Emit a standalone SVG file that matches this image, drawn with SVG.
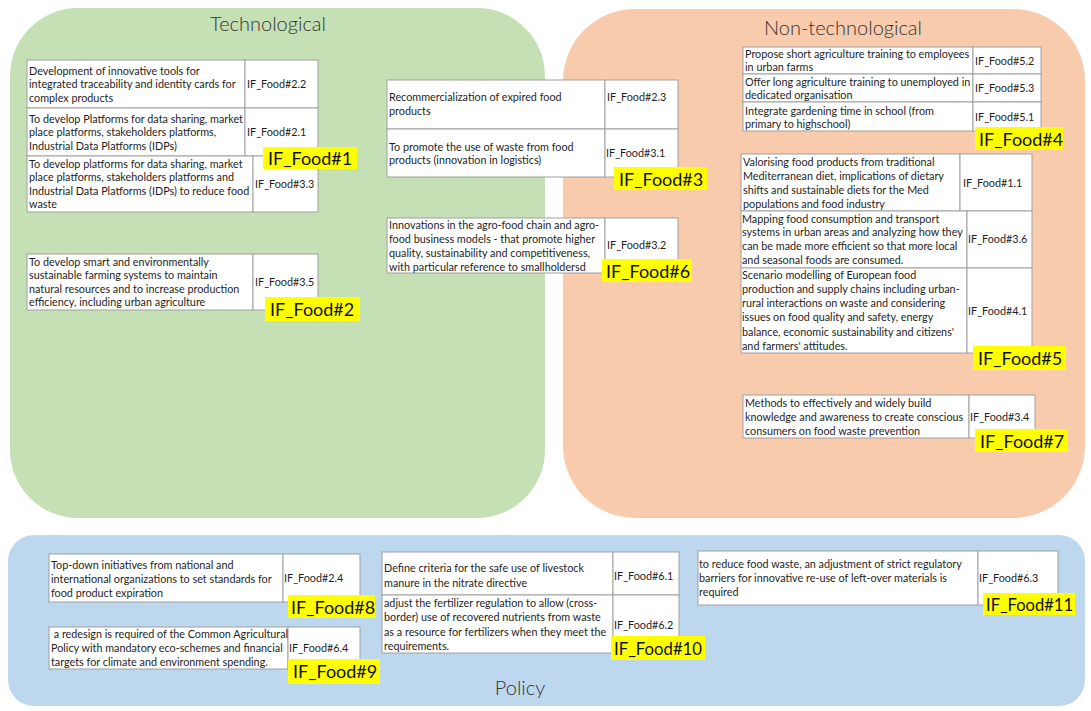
<svg xmlns="http://www.w3.org/2000/svg" width="1091" height="711" viewBox="0 0 1091 711">
<style>
.bg{stroke:none}
.cell{fill:#fff;stroke:#a0a0a0;stroke-width:1}
.t{font-family:Lato,"Open Sans","Liberation Sans",sans-serif;font-size:10.8px;fill:#1e1e1e}
.lab{fill:#ffff00}
.lt{font-family:Lato,"Open Sans","Liberation Sans",sans-serif;font-size:18px;fill:#111}
.title{font-family:Lato,"Open Sans","Liberation Sans",sans-serif;font-size:20px;font-weight:300;fill:#333;text-anchor:middle}
</style>
<rect width="1091" height="711" fill="#fff"/>
<g id="region-technological">
<rect class="bg" x="10" y="8" width="535" height="510" rx="68" fill="#c5e0b4"/>
<text class="title" x="268" y="31">Technological</text>
</g>
<g id="region-nontechnological">
<rect class="bg" x="563" y="9" width="522" height="509" rx="72" fill="#f8cbad"/>
<text class="title" x="843" y="35">Non-technological</text>
</g>
<g id="region-policy">
<rect class="bg" x="8" y="535" width="1077" height="171" rx="26" fill="#bdd7ee"/>
<text class="title" x="520" y="695">Policy</text>
</g>
<g id="connectors"/>

<g id="IF_Food1">
<rect class="cell" x="27" y="60" width="218" height="48"/><rect class="cell" x="245" y="60" width="73" height="48"/>
<text class="t" x="29" y="74.5">Development of innovative tools for</text>
<text class="t" x="29" y="88">integrated traceability and identity cards for</text>
<text class="t" x="29" y="101.5">complex products</text>
<text class="t" x="247" y="88">IF_Food#2.2</text>
<rect class="cell" x="27" y="108" width="218" height="48"/><rect class="cell" x="245" y="108" width="73" height="48"/>
<text class="t" x="29" y="122.5">To develop Platforms for data sharing, market</text>
<text class="t" x="29" y="136">place platforms, stakeholders platforms,</text>
<text class="t" x="29" y="149.5">Industrial Data Platforms (IDPs)</text>
<text class="t" x="247" y="136">IF_Food#2.1</text>
<rect class="cell" x="27" y="156" width="226" height="56"/><rect class="cell" x="253" y="156" width="65" height="56"/>
<text class="t" x="29" y="167.5">To develop platforms for data sharing, market</text>
<text class="t" x="29" y="181">place platforms, stakeholders platforms and</text>
<text class="t" x="29" y="194.5">Industrial Data Platforms (IDPs) to reduce food</text>
<text class="t" x="29" y="208">waste</text>
<text class="t" x="255" y="188">IF_Food#3.3</text>
<rect class="lab" x="263" y="147" width="94" height="22"/>
<text class="lt" x="268" y="165">IF_Food#1</text>
</g>

<g id="IF_Food2">
<rect class="cell" x="27" y="254" width="226" height="56"/><rect class="cell" x="253" y="254" width="65" height="56"/>
<text class="t" x="29" y="265.5">To develop smart and environmentally</text>
<text class="t" x="29" y="279">sustainable farming systems to maintain</text>
<text class="t" x="29" y="292.5">natural resources and to increase production</text>
<text class="t" x="29" y="306">efficiency, including urban agriculture</text>
<text class="t" x="255" y="286">IF_Food#3.5</text>
<rect class="lab" x="265" y="297" width="95" height="24"/>
<text class="lt" x="270" y="316">IF_Food#2</text>
</g>

<g id="IF_Food3">
<rect class="cell" x="387" y="80" width="218" height="49"/><rect class="cell" x="605" y="80" width="73" height="49"/>
<text class="t" x="389" y="101">Recommercialization of expired food</text>
<text class="t" x="389" y="115">products</text>
<text class="t" x="607" y="101">IF_Food#2.3</text>
<rect class="cell" x="387" y="129" width="218" height="48"/><rect class="cell" x="605" y="129" width="73" height="48"/>
<text class="t" x="389" y="151">To promote the use of waste from food</text>
<text class="t" x="389" y="164">products (innovation in logistics)</text>
<text class="t" x="606" y="157">IF_Food#3.1</text>
<rect class="lab" x="614" y="167" width="93" height="23"/>
<text class="lt" x="619" y="186">IF_Food#3</text>
</g>

<g id="IF_Food6">
<rect class="cell" x="387" y="218" width="218" height="55"/><rect class="cell" x="605" y="218" width="73" height="55"/>
<text class="t" x="389" y="229">Innovations in the agro-food chain and agro-</text>
<text class="t" x="389" y="243">food business models - that promote higher</text>
<text class="t" x="389" y="257">quality, sustainability and competitiveness,</text>
<text class="t" x="389" y="270.5">with particular reference to smallholdersd</text>
<text class="t" x="607" y="249">IF_Food#3.2</text>
<rect class="lab" x="602" y="259" width="90" height="23"/>
<text class="lt" x="606" y="278">IF_Food#6</text>
</g>

<g id="IF_Food4">
<rect class="cell" x="743" y="47" width="230" height="27"/><rect class="cell" x="973" y="47" width="68" height="27"/>
<text class="t" x="745" y="58">Propose short agriculture training to employees</text>
<text class="t" x="745" y="71">in urban farms</text>
<text class="t" x="975" y="65">IF_Food#5.2</text>
<rect class="cell" x="743" y="74" width="230" height="28"/><rect class="cell" x="973" y="74" width="68" height="28"/>
<text class="t" x="745" y="86">Offer long agriculture training to unemployed in</text>
<text class="t" x="745" y="99">dedicated organisation</text>
<text class="t" x="975" y="92">IF_Food#5.3</text>
<rect class="cell" x="743" y="102" width="230" height="29"/><rect class="cell" x="973" y="102" width="68" height="29"/>
<text class="t" x="745" y="115">Integrate gardening time in school (from</text>
<text class="t" x="745" y="128">primary to highschool)</text>
<text class="t" x="975" y="121">IF_Food#5.1</text>
<rect class="lab" x="975" y="127" width="88" height="23"/>
<text class="lt" x="979" y="146">IF_Food#4</text>
</g>

<g id="IF_Food5">
<rect class="cell" x="741" y="154" width="219" height="57"/><rect class="cell" x="960" y="154" width="72" height="57"/>
<text class="t" x="743" y="166">Valorising food products from traditional</text>
<text class="t" x="743" y="180">Mediterranean diet, implications of dietary</text>
<text class="t" x="743" y="194">shifts and sustainable diets for the Med</text>
<text class="t" x="743" y="208">populations and food industry</text>
<text class="t" x="963" y="187">IF_Food#1.1</text>
<rect class="cell" x="741" y="211" width="226" height="57"/><rect class="cell" x="967" y="211" width="65" height="57"/>
<text class="t" x="742" y="222.5">Mapping food consumption and transport</text>
<text class="t" x="742" y="236">systems in urban areas and analyzing how they</text>
<text class="t" x="742" y="250">can be made more efficient so that more local</text>
<text class="t" x="742" y="264">and seasonal foods are consumed.</text>
<text class="t" x="968" y="243">IF_Food#3.6</text>
<rect class="cell" x="741" y="268" width="226" height="85"/><rect class="cell" x="967" y="268" width="65" height="85"/>
<text class="t" x="742" y="279">Scenario modelling of European food</text>
<text class="t" x="742" y="293">production and supply chains including urban-</text>
<text class="t" x="742" y="307">rural interactions on waste and considering</text>
<text class="t" x="742" y="321">issues on food quality and safety, energy</text>
<text class="t" x="742" y="336">balance, economic sustainability and citizens'</text>
<text class="t" x="742" y="350">and farmers' attitudes.</text>
<text class="t" x="968" y="315">IF_Food#4.1</text>
<rect class="lab" x="973" y="346" width="93" height="24"/>
<text class="lt" x="978" y="365">IF_Food#5</text>
</g>

<g id="IF_Food7">
<rect class="cell" x="743" y="395" width="226" height="43"/><rect class="cell" x="969" y="395" width="66" height="43"/>
<text class="t" x="745" y="407">Methods to effectively and widely build</text>
<text class="t" x="745" y="421">knowledge and awareness to create conscious</text>
<text class="t" x="745" y="435">consumers on food waste prevention</text>
<text class="t" x="970" y="421">IF_Food#3.4</text>
<rect class="lab" x="975" y="429" width="93" height="23"/>
<text class="lt" x="980" y="448">IF_Food#7</text>
</g>

<g id="IF_Food8">
<rect class="cell" x="49" y="554" width="234" height="48"/><rect class="cell" x="283" y="554" width="77" height="48"/>
<text class="t" x="51" y="569">Top-down initiatives from national and</text>
<text class="t" x="51" y="583">international organizations to set standards for</text>
<text class="t" x="51" y="597">food product expiration</text>
<text class="t" x="284" y="582">IF_Food#2.4</text>
<rect class="lab" x="288" y="595" width="87" height="23"/>
<text class="lt" x="291" y="614">IF_Food#8</text>
</g>

<g id="IF_Food9">
<rect class="cell" x="49" y="627" width="239" height="42"/><rect class="cell" x="288" y="627" width="72" height="42"/>
<text class="t" x="51" y="638" xml:space="preserve"> a redesign is required of the Common Agricultural</text>
<text class="t" x="51" y="652">Policy with mandatory eco-schemes and financial</text>
<text class="t" x="51" y="666">targets for climate and environment spending.</text>
<text class="t" x="289" y="652">IF_Food#6.4</text>
<rect class="lab" x="288" y="659" width="92" height="25"/>
<text class="lt" x="293" y="678">IF_Food#9</text>
</g>

<g id="IF_Food10">
<rect class="cell" x="382" y="552" width="231" height="43"/><rect class="cell" x="613" y="552" width="66" height="43"/>
<text class="t" x="384" y="572">Define criteria for the safe use of livestock</text>
<text class="t" x="384" y="587">manure in the nitrate directive</text>
<text class="t" x="614" y="580">IF_Food#6.1</text>
<rect class="cell" x="382" y="595" width="231" height="58"/><rect class="cell" x="613" y="595" width="66" height="58"/>
<text class="t" x="384" y="607">adjust the fertilizer regulation to allow (cross-</text>
<text class="t" x="384" y="621">border) use of recovered nutrients from waste</text>
<text class="t" x="384" y="636">as a resource for fertilizers when they meet the</text>
<text class="t" x="384" y="650">requirements.</text>
<text class="t" x="614" y="629">IF_Food#6.2</text>
<rect class="lab" x="611" y="636" width="94" height="24"/>
<text class="lt" x="614" y="655" textLength="88" lengthAdjust="spacingAndGlyphs">IF_Food#10</text>
</g>

<g id="IF_Food11">
<rect class="cell" x="698" y="551" width="280" height="54"/><rect class="cell" x="978" y="551" width="80" height="54"/>
<text class="t" x="699" y="568">to reduce food waste, an adjustment of strict regulatory</text>
<text class="t" x="699" y="582">barriers for innovative re-use of left-over materials is</text>
<text class="t" x="699" y="596">required</text>
<text class="t" x="979" y="582">IF_Food#6.3</text>
<rect class="lab" x="983" y="593" width="92" height="22"/>
<text class="lt" x="986" y="611" textLength="87" lengthAdjust="spacingAndGlyphs">IF_Food#11</text>
</g>
</svg>
